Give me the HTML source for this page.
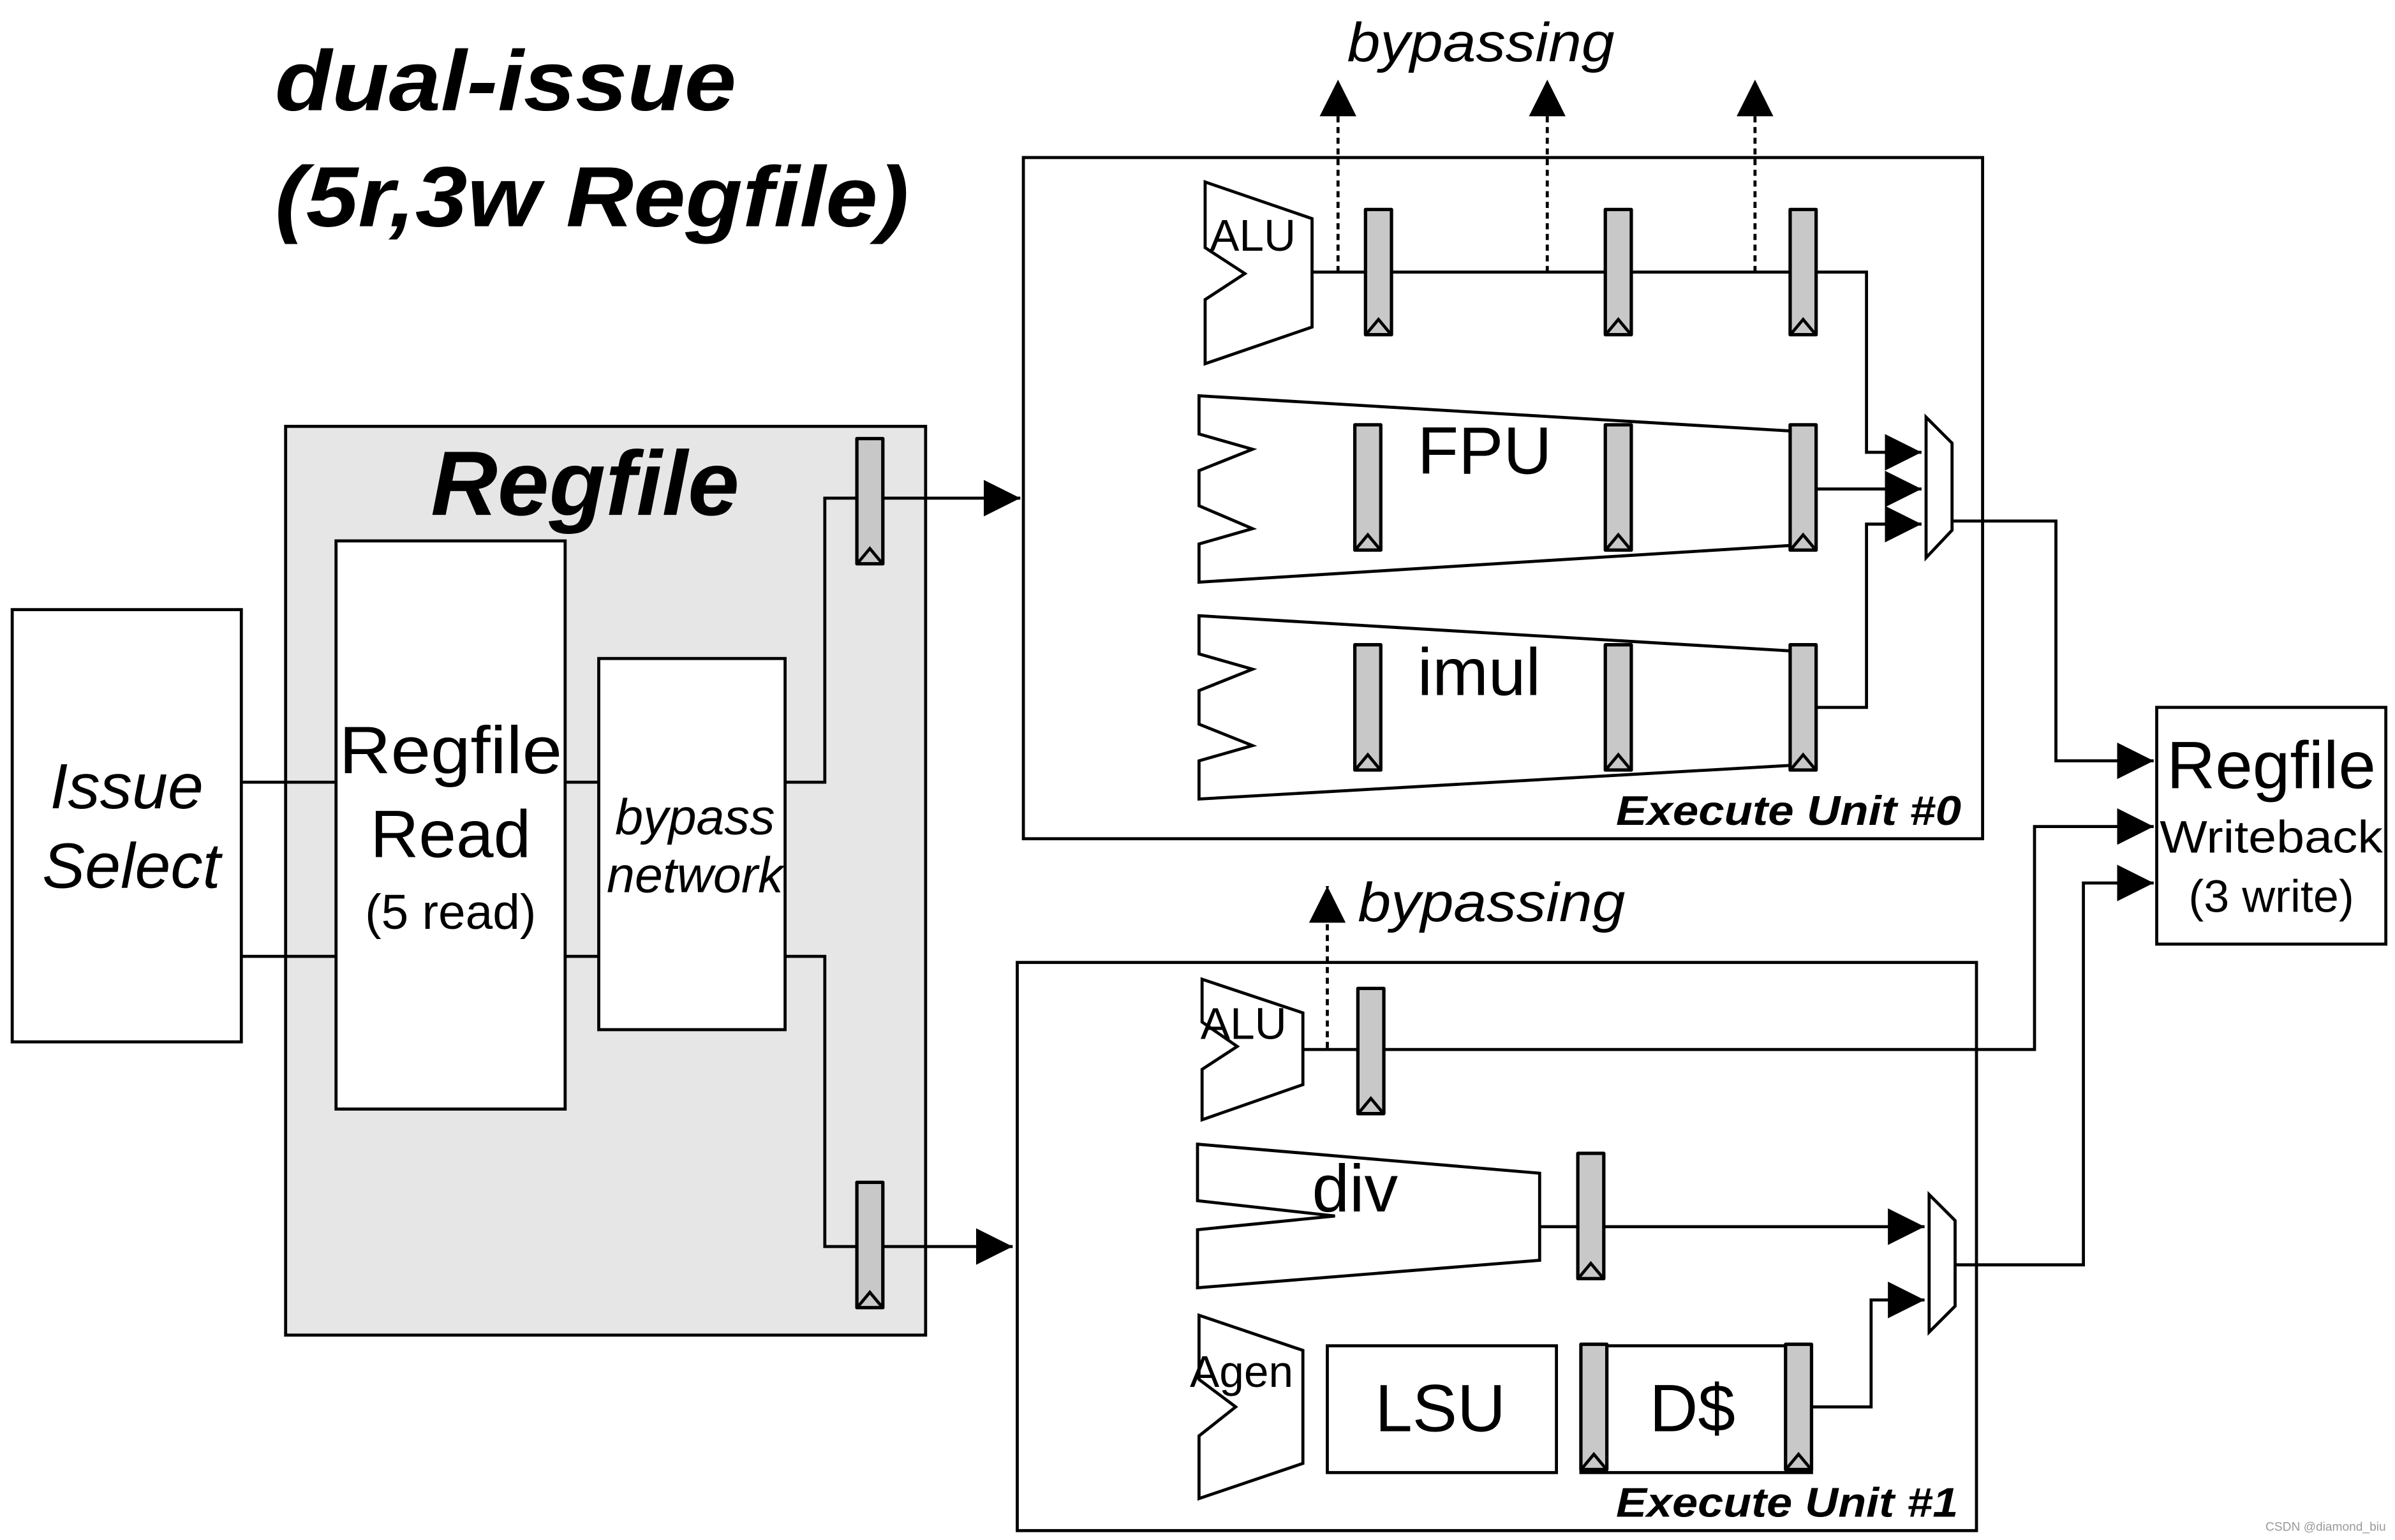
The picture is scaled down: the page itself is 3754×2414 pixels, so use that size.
<!DOCTYPE html>
<html><head><meta charset="utf-8"><style>html,body{margin:0;padding:0;background:#fff}svg{display:block}</style></head>
<body>
<svg width="3754" height="2414" viewBox="0 0 1568 1008" xmlns="http://www.w3.org/2000/svg" font-family="Liberation Sans, sans-serif">
<defs>
<marker id="ahb" viewBox="0 0 10 10" refX="10" refY="5" markerWidth="24" markerHeight="24" markerUnits="userSpaceOnUse" orient="auto"><path d="M0,0L10,5L0,10z" fill="#000"/></marker>
<g id="reg"><rect x="0" y="0" width="17" height="82" fill="#c8c8c8" stroke="#000" stroke-width="2.2" stroke-linejoin="round"/><path d="M1,81L8.5,72L16,81" fill="none" stroke="#000" stroke-width="2"/></g>
</defs>
<text x="180" y="72" font-size="56" font-weight="bold" font-style="italic" textLength="302" lengthAdjust="spacingAndGlyphs">dual-issue</text>
<text x="180" y="148" font-size="56" font-weight="bold" font-style="italic" textLength="415" lengthAdjust="spacingAndGlyphs">(5r,3w Regfile)</text>

<g stroke="#000" stroke-width="2" fill="none">
<rect x="8" y="399" width="150" height="283" fill="#fff"/>
<rect x="187" y="279" width="419" height="595" fill="#e6e6e6"/>
<rect x="220" y="354" width="150" height="372" fill="#fff"/>
<rect x="392" y="431" width="122" height="243" fill="#fff"/>
<path d="M158,512H220M158,626H220M370,512H392M370,626H392"/>
<path d="M514,512H540V326H563"/>
<path d="M578,326H668" marker-end="url(#ahb)"/>
<path d="M514,626H540V816H563"/>
<path d="M578,816H663" marker-end="url(#ahb)"/>
<rect x="670" y="103" width="628" height="446"/>
<rect x="666" y="630" width="628" height="372"/>
<rect x="1412" y="463" width="150" height="155"/>
<path d="M789,119L859,143L859,214L789,238L789,196L815,179L789,162Z" fill="#fff"/>
<path d="M859,178H1222V296H1258" marker-end="url(#ahb)" />
<g stroke-dasharray="4,3"><path d="M876,178V52" marker-end="url(#ahb)"/><path d="M1013,178V52" marker-end="url(#ahb)"/><path d="M1149,178V52" marker-end="url(#ahb)"/></g>
<path d="M785,259L1172,282L1172,357L785,381L785,356L820,346L785,331L785,308L820,294L785,284Z" fill="#fff"/>
<path d="M1189,320H1258" marker-end="url(#ahb)"/>
<path d="M785,403L1172,426L1172,501L785,523L785,498L820,488L785,474L785,452L820,438L785,428Z" fill="#fff"/>
<path d="M1189,463H1222V343H1258" marker-end="url(#ahb)"/>
<path d="M1261,273L1278,290L1278,347L1261,365Z" fill="#fff"/>
<path d="M1278,341H1346V498H1410" marker-end="url(#ahb)"/>
<path d="M869,686V580" stroke-dasharray="4,3" marker-end="url(#ahb)"/>
<path d="M787,641L853,663L853,710L787,733L787,700L810,685L787,669Z" fill="#fff"/>
<path d="M853,687H1332V541H1410" marker-end="url(#ahb)"/>
<path d="M784,749L1008,768L1008,825L784,843L784,805L874,796L784,786Z" fill="#fff"/>
<path d="M1008,803H1033"/>
<path d="M1050,803H1260" marker-end="url(#ahb)"/>
<path d="M1263,782L1280,799L1280,855L1263,872Z" fill="#fff"/>
<path d="M1280,828H1364V578H1410" marker-end="url(#ahb)"/>
<path d="M785,861L853,884L853,958L785,981L785,940L809,921L785,903Z" fill="#fff"/>
<rect x="869" y="881" width="150" height="83" fill="#fff"/>
<rect x="1035" y="881" width="151" height="83" fill="#fff"/>
<path d="M1186,921H1225V851H1260" marker-end="url(#ahb)"/>
</g>
<use href="#reg" x="561" y="287"/>
<use href="#reg" x="561" y="774"/>
<use href="#reg" x="894" y="137"/><use href="#reg" x="1051" y="137"/><use href="#reg" x="1172" y="137"/>
<use href="#reg" x="887" y="278"/><use href="#reg" x="1051" y="278"/><use href="#reg" x="1172" y="278"/>
<use href="#reg" x="887" y="422"/><use href="#reg" x="1051" y="422"/><use href="#reg" x="1172" y="422"/>
<use href="#reg" x="889" y="647"/>
<use href="#reg" x="1033" y="755"/>
<use href="#reg" x="1035" y="880"/><use href="#reg" x="1169" y="880"/>

<g text-anchor="middle">
<text x="83" y="529" font-size="42" font-style="italic">Issue</text>
<text x="86" y="581" font-size="42" font-style="italic">Select</text>
<text x="383" y="337" font-size="60" font-weight="bold" font-style="italic" textLength="202" lengthAdjust="spacingAndGlyphs">Regfile</text>
<text x="295" y="506" font-size="44" textLength="146" lengthAdjust="spacingAndGlyphs">Regfile</text>
<text x="295" y="561" font-size="44">Read</text>
<text x="295" y="608" font-size="32">(5 read)</text>
<text x="455" y="546" font-size="33" font-style="italic">bypass</text>
<text x="455" y="584" font-size="33" font-style="italic">network</text>
<text x="1487" y="516" font-size="44">Regfile</text>
<text x="1487" y="558" font-size="30" textLength="146" lengthAdjust="spacingAndGlyphs">Writeback</text>
<text x="1487" y="597" font-size="30">(3 write)</text>
<text x="943" y="937" font-size="44">LSU</text>
<text x="1108" y="937" font-size="44">D$</text>
</g>
<text x="882" y="40" font-size="36" font-style="italic" textLength="175" lengthAdjust="spacingAndGlyphs">bypassing</text>
<text x="889" y="603" font-size="36" font-style="italic" textLength="175" lengthAdjust="spacingAndGlyphs">bypassing</text>
<text x="792" y="164" font-size="29">ALU</text>
<text x="786" y="680" font-size="29">ALU</text>
<text x="779" y="908" font-size="29">Agen</text>
<text x="928" y="310" font-size="44">FPU</text>
<text x="928" y="455" font-size="44">imul</text>
<text x="859" y="793" font-size="44">div</text>
<text x="1058" y="540" font-size="27" font-weight="bold" font-style="italic" textLength="226" lengthAdjust="spacingAndGlyphs">Execute Unit #0</text>
<text x="1058" y="993" font-size="27" font-weight="bold" font-style="italic" textLength="224" lengthAdjust="spacingAndGlyphs">Execute Unit #1</text>
<text x="1562" y="1002" font-size="8" fill="#999" text-anchor="end">CSDN @diamond_biu</text>
</svg>
</body></html>
